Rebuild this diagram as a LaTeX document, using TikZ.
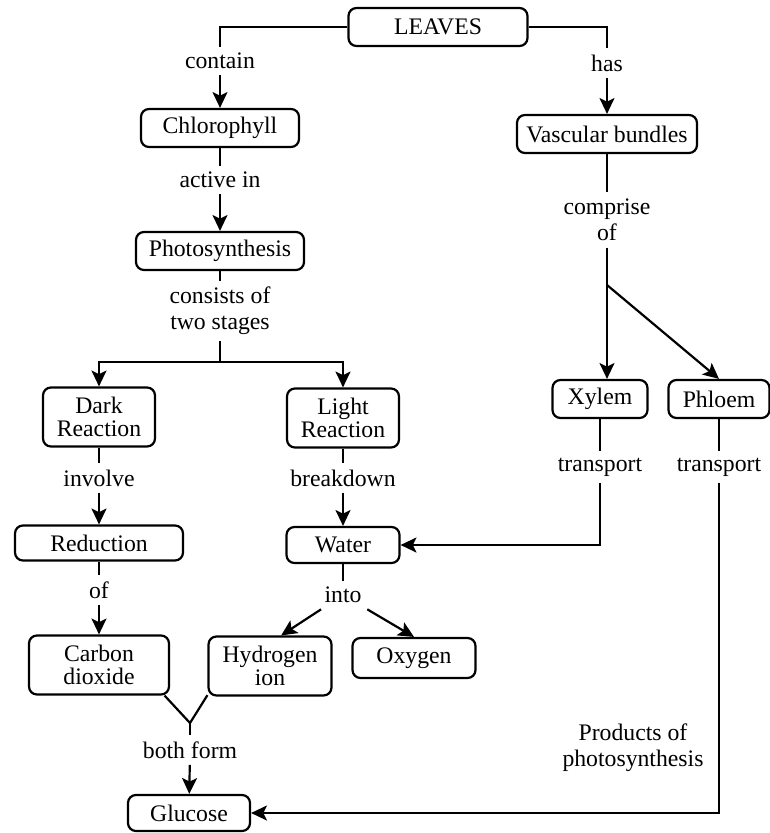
\documentclass[tikz,border=0pt]{standalone}
\usepackage{fontspec}
\setmainfont{Liberation Serif}
\usetikzlibrary{arrows.meta}

\begin{document}
\begin{tikzpicture}[x=0.02cm, y=-0.02cm, line width=1.25pt,
    box/.style={draw, rounded corners=4.5pt, minimum height=0.76cm, inner sep=2pt, align=center, font=\fontsize{13.5}{13}\selectfont},
    lbl/.style={inner sep=3pt, align=center, font=\fontsize{13.5}{15}\selectfont},
    >={Stealth[length=9pt, width=8.5pt, inset=2pt]}]
\useasboundingbox (0,0) rectangle (769,833);
\node[box, minimum width=3.58cm] (leaves) at (438,27) {LEAVES};
\node[box, minimum width=3.16cm] (chl) at (220,128) {Chlorophyll};
\node[box, minimum width=3.36cm] (pho) at (220,251) {Photosynthesis};
\node[box, minimum width=3.6cm] (vasc) at (607,134) {Vascular bundles};
\node[box, minimum width=2.24cm, minimum height=1.18cm] (dark) at (99,417) {Dark\\Reaction};
\node[box, minimum width=2.24cm, minimum height=1.18cm] (light) at (343,418) {Light\\Reaction};
\node[box, minimum width=1.9cm] (xyl) at (600,399) {Xylem};
\node[box, minimum width=2.02cm] (phl) at (719,399) {Phloem};
\node[box, minimum width=3.36cm, minimum height=0.7cm] (red) at (99,543) {Reduction};
\node[box, minimum width=2.26cm, minimum height=0.72cm] (wat) at (343,545) {Water};
\node[box, minimum width=2.8cm, minimum height=1.18cm] (cd) at (99,665) {Carbon\\dioxide};
\node[box, minimum width=2.46cm, minimum height=1.18cm] (hyd) at (270,666) {Hydrogen\\ion};
\node[box, minimum width=2.46cm, minimum height=0.8cm] (oxy) at (414,658) {Oxygen};
\node[box, minimum width=2.44cm, minimum height=0.72cm] (glu) at (189,813) {Glucose};

\node[lbl] (contain) at (220,61) {contain};
\node[lbl] (has) at (607,63) {has};
\node[lbl] (act) at (220,180) {active in};
\node[lbl] (comp) at (607,220) {comprise\\of};
\node[lbl] (cons) at (220,311) {consists of\\two stages};
\node[lbl] (inv) at (99,478) {involve};
\node[lbl] (brk) at (343,478) {breakdown};
\node[lbl] (xtr) at (600,467) {transport};
\node[lbl] (ptr) at (719,467) {transport};
\node[lbl] (of) at (99,590) {of};
\node[lbl] (into) at (343,595) {into};
\node[lbl] (both) at (190,750) {both form};
\node[lbl] (prod) at (633,748) {Products of\\photosynthesis};

\coordinate (br) at (220,362);
\coordinate (vbr) at (607,285);
\coordinate (yj) at (190,723);

\draw (leaves.west) -| (contain);
\draw[->] (contain) -- (chl);
\draw (leaves.east) -| (has);
\draw[->] (has) -- (vasc);
\draw (chl) -- (act);
\draw[->] (act) -- (pho);
\draw (pho) -- (cons);
\draw (cons) -- (br);
\draw[->] (br) -| (dark);
\draw[->] (br) -| (light);
\draw (vasc) -- (comp);
\draw (comp) -- (vbr);
\draw[->] (vbr) -- (vbr |- xyl.north);
\draw[->] (vbr) -- (phl.north);
\draw (dark) -- (inv);
\draw[->] (inv) -- (red);
\draw (light) -- (brk);
\draw[->] (brk) -- (wat);
\draw (red) -- (of);
\draw[->] (of) -- (cd);
\draw (wat) -- (into);
\draw[->] (into) -- (hyd.70);
\draw[->] (into) -- (oxy.north);
\draw (xyl) -- (xtr);
\draw[->] (xtr) |- (wat);
\draw (phl) -- (ptr);
\draw[->] (ptr) |- (glu);
\draw (cd.-25) -- (yj) -- (hyd.-155);
\draw (yj) -- (both);
\draw[->] (both) -- (glu);
\end{tikzpicture}
\end{document}
